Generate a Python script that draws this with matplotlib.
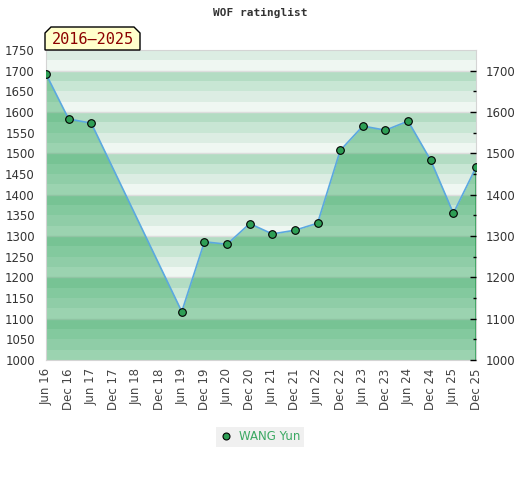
from matplotlib import pyplot as plt
from matplotlib.patches import Polygon
from matplotlib.lines import Line2D
import numpy as np

periods = ['Jun 16', 'Dec 16', 'Jun 17', 'Dec 17', 'Jun 18', 'Dec 18', 'Jun 19',
           'Dec 19', 'Jun 20', 'Dec 20', 'Jun 21', 'Dec 21', 'Jun 22', 'Dec 22',
           'Jun 23', 'Dec 23', 'Jun 24', 'Dec 24', 'Jun 25', 'Dec 25']
# rated periods (Dec 17 - Dec 18 missing)
rated = ['Jun 16', 'Dec 16', 'Jun 17', 'Jun 19', 'Dec 19', 'Jun 20', 'Dec 20',
         'Jun 21', 'Dec 21', 'Jun 22', 'Dec 22', 'Jun 23', 'Dec 23', 'Jun 24',
         'Dec 24', 'Jun 25', 'Dec 25']
rating = [1692, 1583, 1573, 1117, 1286, 1280, 1330,
          1305, 1314, 1331, 1507, 1566, 1556, 1578,
          1483, 1355, 1466]
player = 'WANG Yun'
span = '2016\u20132025'
ymin, ymax = 1000, 1750

band_cols = ['#eff7f2', '#dcede3', '#c8e6d4', '#b3dcc3']

W, H = 520, 480
fig = plt.figure(figsize=(W / 100, H / 100), dpi=100)
ax = fig.add_axes([46 / W, 1 - 360 / H, 430 / W, 310 / H])

# banded background, 25 points per band
for lo in range(ymin, ymax, 25):
    ax.axhspan(lo, lo + 25, color=band_cols[(lo // 25) % 4], lw=0, zorder=0)
for v in range(ymin + 100, ymax, 100):
    ax.axhline(v, color='#dddddd', lw=1, zorder=0.5)

xs = np.array([periods.index(p) for p in rated])
ys = np.array(rating)
ax.fill_between(xs, ys, ymin, color='#1d9f4e', alpha=0.4, lw=0, zorder=1)
ax.vlines([xs[0], xs[-1]], ymin, [ys[0], ys[-1]], color='#2e9e55', lw=1.2, zorder=2)
ax.plot(xs, ys, color='#5ba8e0', lw=1.2, zorder=3)
ax.plot(xs, ys, 'o', ms=5.5, mfc='#2e9e55', mec='black', mew=0.8, zorder=4)

ax.set_xlim(0, len(periods) - 1)
ax.set_ylim(ymin, ymax)
ax.set_xticks(range(len(periods)))
ax.set_xticklabels(periods, rotation=90, fontsize=8.5, color='#444444')
ax.set_yticks(range(ymin, ymax + 1, 50))
ax.tick_params(axis='y', length=0, labelsize=8.5, labelcolor='#333333', pad=8)
ax.tick_params(axis='x', length=0, pad=6)
for s in ax.spines.values():
    s.set_color('#d4d4d4')

ax2 = ax.twinx()
ax2.set_ylim(ymin, ymax)
ax2.set_yticks(range(ymin, ymax, 100))
ax2.set_yticks(range(ymin + 50, ymax, 100), minor=True)
ax2.tick_params(axis='y', which='major', direction='in', length=4, width=1,
                labelsize=8.5, labelcolor='#333333', pad=7)
ax2.tick_params(axis='y', which='minor', direction='in', length=2, width=1)
for s in ax2.spines.values():
    s.set_visible(False)

fig.text(0.5, 1 - 13 / H, 'WOF ratinglist', ha='center', va='center',
         family='DejaVu Sans Mono', fontsize=8, fontweight='bold', color='#333333')

# year span tag
pts = [(45, 50), (45, 33), (51, 27), (134, 27), (140, 33), (140, 50)]
tag = Polygon([(x / W, 1 - y / H) for x, y in pts], closed=True,
              transform=fig.transFigure, facecolor='#ffffcc', edgecolor='black', lw=1)
fig.patches.append(tag)
fig.text(92.5 / W, 1 - 39.5 / H, span, ha='center', va='center',
         family='DejaVu Sans Mono', fontsize=11, color='#8b0000')

h = Line2D([], [], ls='none', marker='o', ms=5, mfc='#2e9e55', mec='black', mew=0.8)
leg = fig.legend([h], [player], loc='center', bbox_to_anchor=(260 / W, 1 - 437 / H),
                 frameon=True, fancybox=False, facecolor='#f0f0f0', edgecolor='none',
                 fontsize=8.5, handlelength=1, handletextpad=0.6, borderpad=0.3,
                 borderaxespad=0)
leg.get_frame().set_alpha(1)
for t in leg.get_texts():
    t.set_color('#3aa862')

fig.savefig('out.png', dpi=100)
